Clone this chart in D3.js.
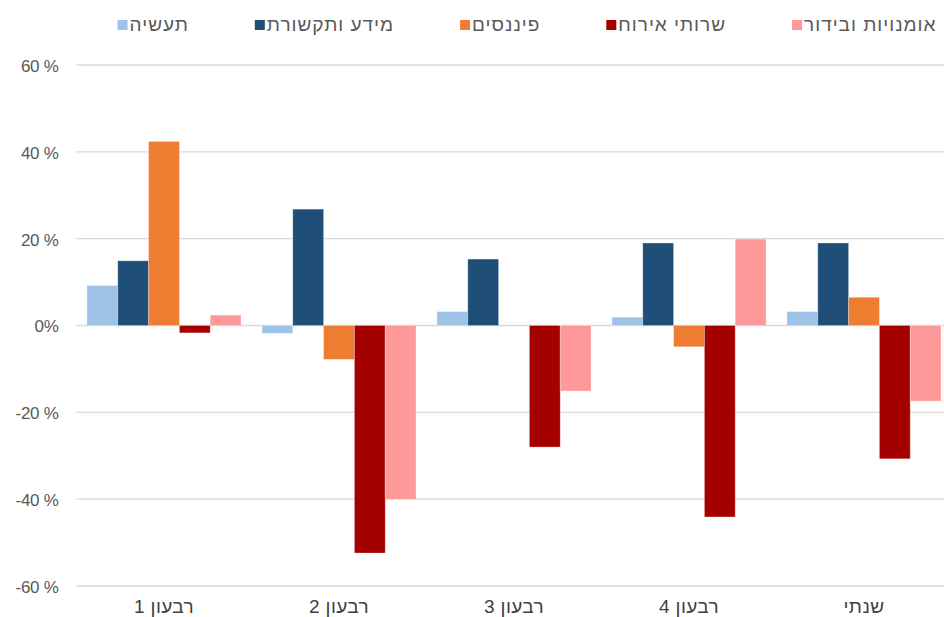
<!DOCTYPE html>
<html>
<head>
<meta charset="utf-8">
<script src="https://cdn.jsdelivr.net/npm/d3@7"></script>
<style>
  body { margin: 0; background: #fff; }
  svg { display: block; font-family: "Liberation Sans", Arial, "DejaVu Sans", sans-serif; }
</style>
</head>
<body>
<svg class="chart" width="944" height="617"></svg>
<script>
const categories = ['רבעון 1', 'רבעון 2', 'רבעון 3', 'רבעון 4', 'שנתי'];
const seriesNames = ['תעשיה', 'מידע ותקשורת', 'פיננסים', 'שרותי אירוח', 'אומנויות ובידור'];
const industry = [9.2, -1.8, 3.2, 1.9, 3.2];
const infoComm = [14.9, 26.8, 15.3, 19.0, 19.0];
const finance = [42.4, -7.8, 0, -4.9, 6.5];
const hospitality = [-1.7, -52.4, -28.0, -44.1, -30.7];
const arts = [2.4, -40.0, -15.1, 19.9, -17.4];
const yTicks = [-60, -40, -20, 0, 20, 40, 60];
const colors = ['#9DC3E6', '#1F4E79', '#ED7D31', '#A50000', '#FF9999'];

const seriesValues = [industry, infoComm, finance, hospitality, arts];
const series = seriesNames.map((name, i) => ({ name, color: colors[i], values: seriesValues[i] }));

const margin = { top: 65, left: 76.5, right: -7.5, bottom: 31 };
const size = { width: 944, height: 617 };
const svg = d3.select('.chart');

const xScale = d3.scaleBand().domain(categories).range([margin.left, size.width - margin.right]);
const x1 = d3.scaleBand().domain(seriesNames)
  .range([0, xScale.bandwidth()]).paddingOuter(0.34);
const yScale = d3.scaleLinear().domain([-60, 60]).range([size.height - margin.bottom, margin.top]);

// grid
svg.append('g')
  .selectAll('line')
  .data(yTicks)
  .enter()
  .append('line')
  .attr('x1', margin.left)
  .attr('x2', size.width)
  .attr('y1', d => yScale(d))
  .attr('y2', d => yScale(d))
  .attr('stroke', '#d9d9d9')
  .attr('stroke-width', 1.3);

// y labels
const yAxis = d3.axisLeft(yScale).tickValues(yTicks).tickSize(0).tickPadding(0)
  .tickFormat(d => (d === 0 ? '0%' : `${d} %`));
const yG = svg.append('g')
  .attr('transform', `translate(${margin.left - 18}, 1)`)
  .call(yAxis);
yG.select('.domain').remove();
yG.selectAll('text')
  .attr('fill', '#595959')
  .style('font-size', '17px')
  .style('letter-spacing', '-0.3px')
  .style('font-family', '"Liberation Sans", Arial, sans-serif');

// bars
const groups = svg.append('g')
  .selectAll('g')
  .data(series)
  .enter()
  .append('g')
  .attr('fill', s => s.color);

groups.selectAll('rect')
  .data(s => s.values.map((v, i) => ({ name: s.name, cat: categories[i], v })))
  .enter()
  .append('rect')
  .attr('x', d => xScale(d.cat) + x1(d.name))
  .attr('width', x1.bandwidth())
  .attr('y', d => yScale(Math.max(0, d.v)))
  .attr('height', d => Math.abs(yScale(d.v) - yScale(0)))
  .attr('stroke', 'rgba(255,255,255,0.35)')
  .attr('stroke-width', 0.8);

// category labels
svg.append('g')
  .selectAll('text')
  .data(categories)
  .enter()
  .append('text')
  .attr('x', d => xScale(d) + xScale.bandwidth() / 2)
  .attr('y', size.height - 4)
  .attr('text-anchor', 'middle')
  .attr('direction', 'rtl')
  .attr('fill', '#404040')
  .style('font-size', '19px')
  .style('letter-spacing', '0.4px')
  .text(d => d);

// legend, centred above the plot
const legend = svg.append('g');
const items = legend.selectAll('g')
  .data(series)
  .enter()
  .append('g');
items.append('rect')
  .attr('width', 10)
  .attr('height', 10)
  .attr('y', 20)
  .attr('fill', s => s.color);
items.append('text')
  .attr('y', 31)
  .attr('text-anchor', 'middle')
  .attr('direction', 'rtl')
  .attr('fill', '#595959')
  .style('font-size', '19px')
  .style('letter-spacing', '1px')
  .text(s => s.name);

let cursor = 0;
const gap = 66;
items.each(function () {
  const item = d3.select(this);
  const w = item.select('text').node().getComputedTextLength();
  item.select('rect').attr('x', cursor);
  item.select('text').attr('x', cursor + 12 + w / 2);
  cursor += 12 + w + gap;
});
const legendWidth = cursor - gap;
legend.attr('transform', `translate(${527 - legendWidth / 2}, 0)`);
</script>
</body>
</html>
